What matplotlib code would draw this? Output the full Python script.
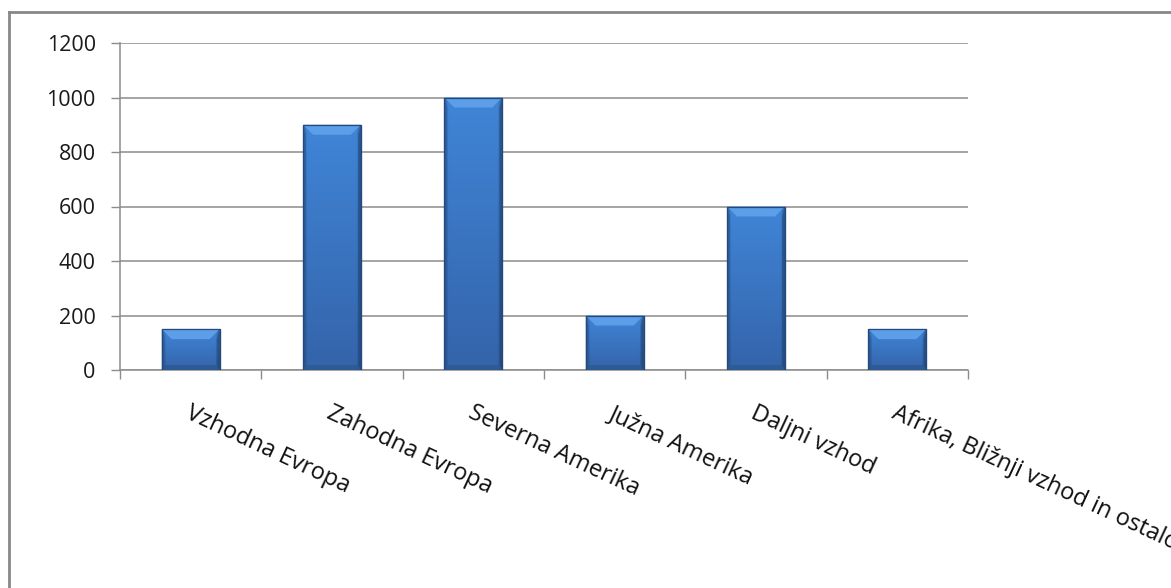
import numpy as np
import matplotlib
matplotlib.use("Agg")
import matplotlib.pyplot as plt
from matplotlib.lines import Line2D
from matplotlib.patches import Polygon
from matplotlib.transforms import ScaledTranslation, blended_transform_factory

# Regions and their values
regions = ["Vzhodna Evropa", "Zahodna Evropa", "Severna Amerika",
           "Južna Amerika", "Daljni vzhod", "Afrika, Bližnji vzhod in ostalo"]
values = [150, 900, 1000, 200, 600, 150]
y_ticks = [0, 200, 400, 600, 800, 1000, 1200]

plt.rcParams["font.family"] = ["Open Sans", "DejaVu Sans"]

W, H, DPI = 1171, 588, 100
fig = plt.figure(figsize=(W / DPI, H / DPI), dpi=DPI)
fig.patch.set_facecolor("white")

ax = fig.add_axes([120 / W, 1 - 370 / H, 848 / W, 327 / H])
n = len(regions)
x = np.arange(n)
bar_w = 0.41

ax.set_xlim(-0.5, n - 0.5)
ax.set_ylim(0, 1200)
ax.set_yticks(y_ticks)
ax.set_yticklabels([str(v) for v in y_ticks], fontsize=15.5, color="#1a1a1a")
ax.set_xticks(np.arange(n + 1) - 0.5)
ax.set_xticklabels([])
ax.tick_params(axis="y", length=6.5, width=1, color="#8c8c8c", pad=11)
ax.tick_params(axis="x", length=6.5, width=1, color="#8c8c8c")
ax.grid(axis="y", color="#8c8c8c", linewidth=1.1, zorder=0)
ax.set_axisbelow(True)
for s in ["top", "right"]:
    ax.spines[s].set_visible(False)
for s in ["left", "bottom"]:
    ax.spines[s].set_color("#8c8c8c")
    ax.spines[s].set_linewidth(1.1)

bars = ax.bar(x, values, width=bar_w, color="#3a74c0", edgecolor="#24497e",
              linewidth=0.8, zorder=3)

# Shaded body: vertical light-to-dark ramp with darker side edges
ny, nx = 64, 64
t = np.linspace(0, 1, ny)[:, None]          # 0 top -> 1 bottom
s = np.linspace(-1, 1, nx)[None, :]
top_c = np.array([64, 133, 215]) / 255
bot_c = np.array([52, 100, 170]) / 255
base = top_c[None, None, :] * (1 - t[..., None]) + bot_c[None, None, :] * t[..., None]
edge = 1 - 0.25 * np.clip((np.abs(s) - 0.86) / 0.14, 0, 1)
img = base * edge[..., None]

px_x = n / 848.0            # data units per pixel horizontally
px_y = 1200 / 327.0         # data units per pixel vertically
top_x, top_y = 10 * px_x, 10 * px_y
side_x = 3 * px_x
bot_y = 5 * px_y

for b, v in zip(bars, values):
    x0 = b.get_x()
    x1 = x0 + b.get_width()
    im = ax.imshow(img, extent=[x0, x1, 0, v], aspect="auto",
                   interpolation="bilinear", zorder=3.5)
    im.set_clip_path(b)
    # side bevels
    ax.add_patch(Polygon([[x0, 0], [x0 + side_x, bot_y], [x0 + side_x, v - top_y], [x0, v]],
                         closed=True, facecolor="#2a568f", edgecolor="none", alpha=0.55, zorder=4))
    ax.add_patch(Polygon([[x1, 0], [x1 - side_x, bot_y], [x1 - side_x, v - top_y], [x1, v]],
                         closed=True, facecolor="#234a7e", edgecolor="none", alpha=0.6, zorder=4))
    # bottom bevel
    ax.add_patch(Polygon([[x0, 0], [x1, 0], [x1 - side_x, bot_y], [x0 + side_x, bot_y]],
                         closed=True, facecolor="#2d5891", edgecolor="none", alpha=0.8, zorder=4))
    # top bevel
    ax.add_patch(Polygon([[x0, v], [x1, v], [x1 - top_x, v - top_y], [x0 + top_x, v - top_y]],
                         closed=True, facecolor="#5d9ee8", edgecolor="none", zorder=4.2))
    ax.add_patch(Polygon([[x0, 0], [x1, 0], [x1, v], [x0, v]], closed=True,
                         facecolor="none", edgecolor="#24497e", linewidth=0.9, zorder=5))

# Rotated category labels hanging below each category
trans = blended_transform_factory(ax.transData, ax.transAxes)
for xi, lab in zip(x, regions):
    off = ScaledTranslation(1 / DPI, -31 / DPI, fig.dpi_scale_trans)
    ax.text(xi, 0, lab, transform=trans + off, rotation=-25,
            rotation_mode="anchor", ha="left", va="top",
            fontsize=17, color="#111111", clip_on=False)

# Chart frame (top and left edges)
fig.add_artist(Line2D([9 / W, 9 / W], [0, 1 - 12 / H], transform=fig.transFigure,
                      color="#888888", linewidth=2))
fig.add_artist(Line2D([9 / W, 1], [1 - 12 / H, 1 - 12 / H], transform=fig.transFigure,
                      color="#888888", linewidth=2))

fig.savefig("out.png", dpi=DPI, facecolor="white")
